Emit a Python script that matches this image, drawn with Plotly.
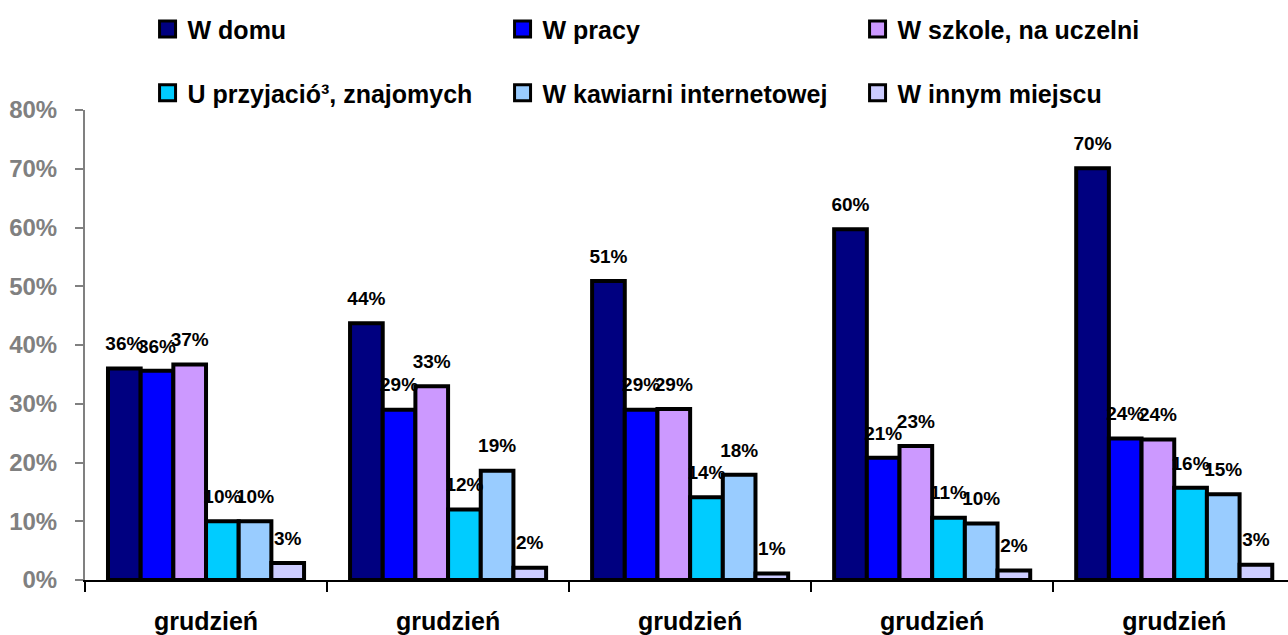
import plotly.graph_objects as go

categories = ["grudzień", "grudzień", "grudzień", "grudzień", "grudzień"]
series_names = ["W domu", "W pracy", "W szkole, na uczelni",
                "U przyjació³, znajomych", "W kawiarni internetowej", "W innym miejscu"]
w_domu = [36.0, 43.7, 50.9, 59.7, 70.1]
w_pracy = [35.6, 29.0, 29.0, 20.8, 24.1]
w_szkole = [36.7, 33.0, 29.1, 22.8, 23.9]
u_przyjaciol = [10.0, 12.0, 14.1, 10.6, 15.7]
w_kawiarni = [10.0, 18.6, 17.9, 9.6, 14.6]
w_innym = [2.9, 2.1, 1.1, 1.6, 2.6]
colors = ["#000080", "#0000FF", "#CC99FF", "#00CCFF", "#99CCFF", "#CCCCFF"]
y_ticks = [0, 10, 20, 30, 40, 50, 60, 70, 80]

series = [w_domu, w_pracy, w_szkole, u_przyjaciol, w_kawiarni, w_innym]
xs = list(range(len(categories)))
FONT = "Liberation Sans, Arial, sans-serif"

fig = go.Figure()
for i, (name, vals) in enumerate(zip(series_names, series)):
    fig.add_trace(go.Bar(
        x=xs, y=vals, name=name, offsetgroup=f"g{i}",
        marker=dict(color=colors[i], line=dict(color="black", width=4)),
        showlegend=False, hoverinfo="skip",
    ))
for i, (name, vals) in enumerate(zip(series_names, series)):
    fig.add_trace(go.Scatter(
        x=xs, y=vals, mode="markers+text", offsetgroup=f"g{i}",
        text=[f"{v:.0f}%" for v in vals], textposition="top center",
        textfont=dict(family=FONT, size=19, color="black", weight="bold"),
        marker=dict(size=20, color="rgba(0,0,0,0)"),
        showlegend=False, hoverinfo="skip", cliponaxis=False,
    ))
for i, name in enumerate(series_names):
    fig.add_trace(go.Scatter(
        x=[None], y=[None], mode="markers", name=name, offsetgroup=f"g{i}",
        marker=dict(symbol="square", size=16, color=colors[i],
                    line=dict(color="black", width=3)),
        legend="legend" if i < 3 else "legend2",
    ))

legend_common = dict(
    orientation="h", entrywidthmode="pixels", entrywidth=310,
    font=dict(family=FONT, size=25, color="black", weight="bold"),
    x=0.052, xanchor="left", yanchor="middle",
    bgcolor="rgba(0,0,0,0)", itemclick=False,
)

fig.update_layout(
    width=1288, height=635,
    margin=dict(l=85, r=0, t=110, b=55),
    paper_bgcolor="white", plot_bgcolor="white",
    barmode="group", bargap=0.19, bargroupgap=0,
    scattermode="group", scattergap=0.19,
    legend=dict(y=1.172, **legend_common),
    legend2=dict(y=1.036, **legend_common),
    xaxis=dict(
        range=[-0.5, 4.47], tickvals=xs, ticktext=categories,
        showline=True, linecolor="black", linewidth=1.5,
        ticks="", showgrid=False, zeroline=False,
        tickfont=dict(family=FONT, size=25, color="black", weight="bold"),
        ticklabelstandoff=18,
        minor=dict(tickvals=[i - 0.5 for i in range(len(categories) + 1)],
                   ticks="outside", ticklen=10, tickcolor="black", tickwidth=1.5,
                   showgrid=False),
    ),
    yaxis=dict(
        range=[0, 80], tickvals=y_ticks, ticktext=[f"{v}%" for v in y_ticks],
        showline=True, linecolor="#808080", linewidth=2,
        ticks="outside", ticklen=8, tickcolor="#808080", tickwidth=2,
        showgrid=False, zeroline=False,
        tickfont=dict(family=FONT, size=24, color="#808080", weight="bold"),
        ticklabelstandoff=13,
    ),
)

fig.write_html("out.html", config={"displayModeBar": False},
               post_script="document.body.style.margin='0px';")
